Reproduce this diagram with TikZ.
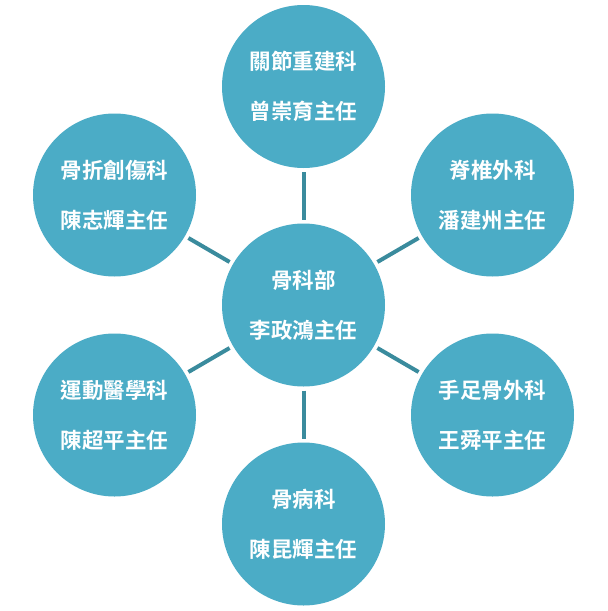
\documentclass[tikz,border=0pt]{standalone}
\usepackage{fontspec}
\newfontfamily\cjk{Noto Sans CJK TC}[BoldFont={Noto Sans CJK TC Bold}]
\definecolor{circfill}{HTML}{4BACC6}
\definecolor{connline}{HTML}{3A8B9D}
\begin{document}
\begin{tikzpicture}[x=1pt,y=-1pt,
  dept/.style={circle,fill=circfill,minimum size=163pt,inner sep=0pt,outer sep=0pt,
    text=white,font=\cjk\bfseries\fontsize{21.5pt}{50pt}\selectfont,align=center},
  conn/.style={draw=connline,line width=4pt,shorten <=4pt,shorten >=4pt}]
\useasboundingbox[fill=white] (0,0) rectangle (608,611);
\node[dept] (c) at (303.5,305) {骨科部\\李政鴻主任};
\node[dept] (t) at (303.5,86.5) {關節重建科\\曾崇育主任};
\node[dept] (b) at (303.5,524) {骨病科\\陳昆輝主任};
\node[dept] (ul) at (114.5,195) {骨折創傷科\\陳志輝主任};
\node[dept] (ur) at (492.5,195) {脊椎外科\\潘建州主任};
\node[dept] (ll) at (114.5,415) {運動醫學科\\陳超平主任};
\node[dept] (lr) at (492.5,415) {手足骨外科\\王舜平主任};
\foreach \n in {t,b,ul,ur,ll,lr} \draw[conn] (c) -- (\n);
\end{tikzpicture}
\end{document}
